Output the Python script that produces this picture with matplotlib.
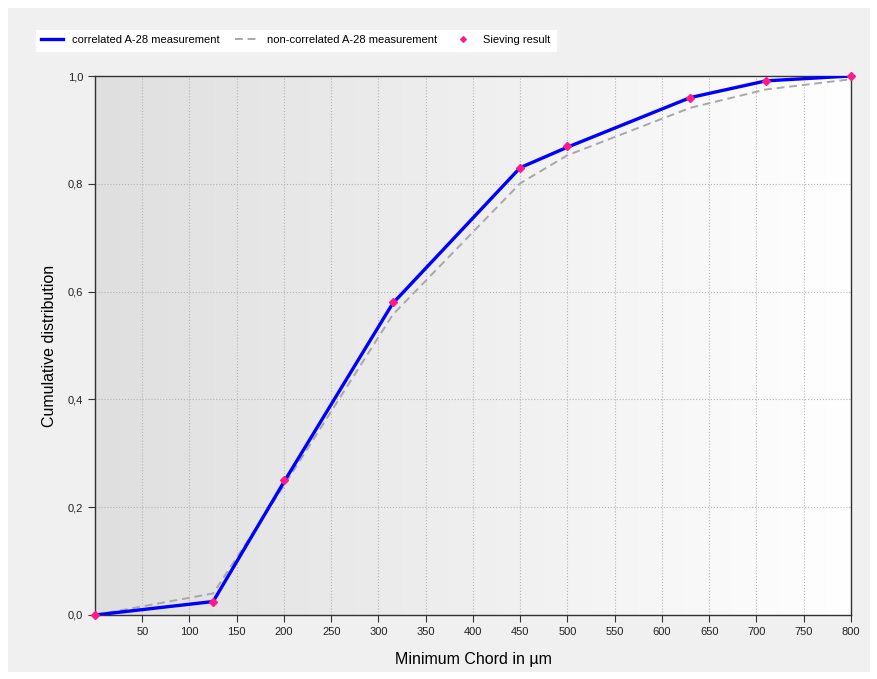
import numpy as np
import matplotlib
matplotlib.use("Agg")
import matplotlib.pyplot as plt
from matplotlib.patches import Rectangle
from matplotlib.ticker import FuncFormatter

# sieving sizes in um
sizes = [0, 125, 200, 315, 450, 500, 630, 710, 800]
corr = [0.0, 0.025, 0.247, 0.578, 0.83, 0.868, 0.96, 0.991, 1.0]
noncorr = [0.0, 0.04, 0.24, 0.557, 0.801, 0.853, 0.941, 0.975, 0.994]
sieve = [0.0, 0.025, 0.25, 0.58, 0.83, 0.87, 0.96, 0.99, 1.0]

xticks = list(range(50, 801, 50))
yticks = [0.0, 0.2, 0.4, 0.6, 0.8, 1.0]

plt.rcParams['font.family'] = ['Liberation Sans', 'DejaVu Sans']

fig = plt.figure(figsize=(8.78, 6.79), dpi=100, facecolor="white")
# grey panel behind everything
fig.patches.append(Rectangle((8/878, 7/679), 862/878, 664/679, transform=fig.transFigure,
                             facecolor="#f0f0f0", edgecolor="none", zorder=-10))

ax = fig.add_axes([95/878, 64/679, 756/878, 539/679])
ax.set_xlim(0, 800)
ax.set_ylim(0, 1.0)

# horizontal gradient background
grad = np.linspace(0, 1, 256).reshape(1, -1)
cm = matplotlib.colors.LinearSegmentedColormap.from_list("g", ["#dfdfdf", "#ffffff"])
ax.imshow(grad, extent=[0, 800, 0, 1.0], aspect="auto", cmap=cm, zorder=0)

ax.grid(True, color="#b4b4b4", linestyle=":", linewidth=0.8, zorder=1)

ax.plot(sizes, noncorr, color="#a8a8a8", linestyle="--", linewidth=1.4, dashes=(4, 2.5),
        label="non-correlated A-28 measurement", zorder=3)
ax.plot(sizes, corr, color="#0000ff", linewidth=2.4, label="correlated A-28 measurement", zorder=4)
ax.plot(sizes, sieve, linestyle="none", marker="D", markersize=3.6, color="#ff1a8c",
        label="Sieving result", zorder=5, clip_on=False)

ax.set_xticks(xticks)
ax.set_yticks(yticks)
ax.yaxis.set_major_formatter(FuncFormatter(lambda v, p: f"{v:.1f}".replace(".", ",")))
ax.tick_params(labelsize=8, length=5, width=0.8, color="#333333", labelcolor="#222222")

for s in ax.spines.values():
    s.set_color("#333333")
    s.set_linewidth(1.0)

ax.set_xlabel("Minimum Chord in \u00b5m", fontsize=11.5, labelpad=11)
ax.set_ylabel("Cumulative distribution", fontsize=11.5, labelpad=8)

h, l = ax.get_legend_handles_labels()
order = [1, 0, 2]
leg = fig.legend([h[i] for i in order], [l[i] for i in order], loc="upper left",
                 bbox_to_anchor=(30/878, 1 - 24/679), ncol=3, fontsize=8,
                 frameon=True, fancybox=False, handlelength=2.0, columnspacing=1.4,
                 borderpad=0.5, handletextpad=0.8, markerscale=0.8)
leg.get_frame().set_edgecolor("white")
leg.get_frame().set_facecolor("white")
leg.get_frame().set_alpha(1)

fig.savefig("out.png", dpi=100, facecolor="white")
